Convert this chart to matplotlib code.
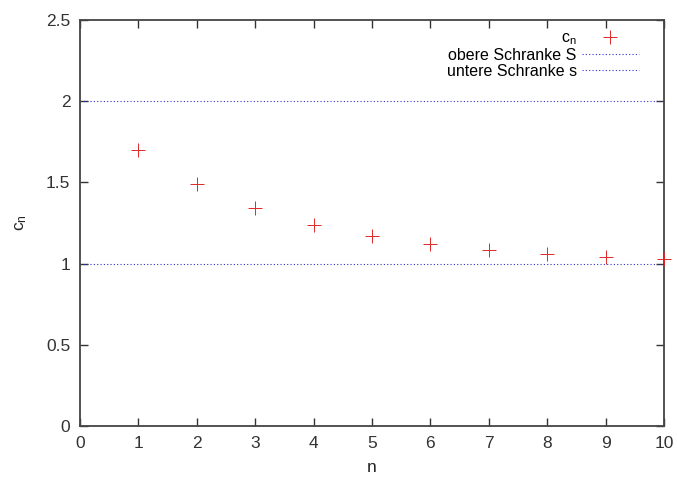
import matplotlib
matplotlib.use('Agg')
import matplotlib.pyplot as plt

plt.rcParams['font.family'] = ['Liberation Sans', 'DejaVu Sans']
plt.rcParams['mathtext.fontset'] = 'custom'
plt.rcParams['mathtext.rm'] = 'Liberation Sans'
plt.rcParams['mathtext.it'] = 'Liberation Sans'

# data
n = [1, 2, 3, 4, 5, 6, 7, 8, 9, 10]
c_n = [1.7, 1.49, 1.343, 1.24, 1.168, 1.118, 1.082, 1.058, 1.04, 1.028]
obere_S = 2.0
untere_s = 1.0

fig = plt.figure(figsize=(6.77, 4.83), dpi=100)
ax = fig.add_axes([80/677, 57/483, 584/677, 406/483])

ax.plot(n, c_n, linestyle='none', marker='+', color='#e02828', markersize=10,
        markeredgewidth=0.7, label=r'c$_\mathregular{n}$', clip_on=False, zorder=5)
ax.axhline(obere_S, color='#3030c8', lw=0.8, linestyle=(0, (1, 2)), label='obere Schranke S')
ax.axhline(untere_s, color='#3030c8', lw=0.8, linestyle=(0, (1, 2)), label='untere Schranke s')

ax.set_xlim(0, 10)
ax.set_ylim(0, 2.5)
ax.set_xticks(range(0, 11))
ax.set_yticks([0, 0.5, 1, 1.5, 2, 2.5])
ax.set_yticklabels(['0', '0.5', '1', '1.5', '2', '2.5'])
ax.tick_params(direction='in', length=6, width=1, top=True, right=True,
               labelsize=12.5, colors='#333333', pad=7)
for s in ax.spines.values():
    s.set_color('#444444')
    s.set_linewidth(1.3)

ax.set_xlabel('n', fontsize=12.5, labelpad=7, color='#222222')
ax.set_ylabel(r'c$_\mathregular{n}$', fontsize=12.5, labelpad=12, color='#222222')

ax.legend(loc='upper right', frameon=False, markerfirst=False, fontsize=11.5,
          handlelength=3.6, handletextpad=0.3, labelspacing=0.05,
          bbox_to_anchor=(0.975, 1.0), borderaxespad=0.25)

fig.savefig('out.png', dpi=100)
